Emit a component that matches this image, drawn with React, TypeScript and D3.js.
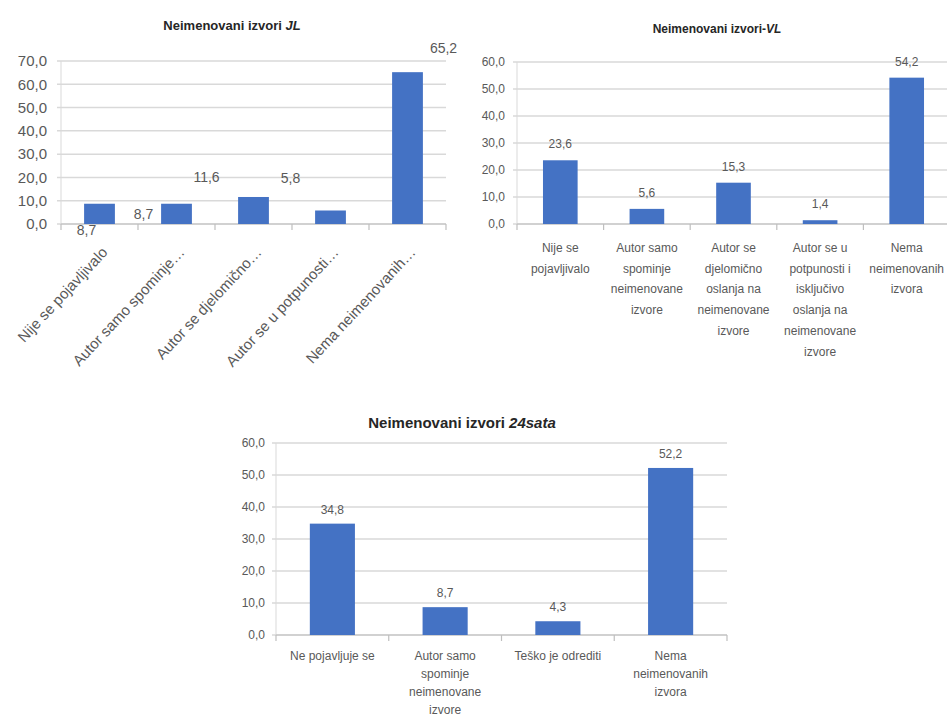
import React from 'react';
import * as d3 from 'd3';

const jlCategories = ["Nije se pojavljivalo", "Autor samo spominje…", "Autor se djelomično…", "Autor se u potpunosti…", "Nema neimenovanih…"];
const jlValues = [8.7, 8.7, 11.6, 5.8, 65.2];
const jlTicks = [0, 10, 20, 30, 40, 50, 60, 70];

const vlCategories = [
  ["Nije se", "pojavljivalo"],
  ["Autor samo", "spominje", "neimenovane", "izvore"],
  ["Autor se", "djelomično", "oslanja na", "neimenovane", "izvore"],
  ["Autor se u", "potpunosti i", "isključivo", "oslanja na", "neimenovane", "izvore"],
  ["Nema", "neimenovanih", "izvora"],
];
const vlValues = [23.6, 5.6, 15.3, 1.4, 54.2];
const vlTicks = [0, 10, 20, 30, 40, 50, 60];

const sataCategories = [
  ["Ne pojavljuje se"],
  ["Autor samo", "spominje", "neimenovane", "izvore"],
  ["Teško je odrediti"],
  ["Nema", "neimenovanih", "izvora"],
];
const sataValues = [34.8, 8.7, 4.3, 52.2];
const sataTicks = [0, 10, 20, 30, 40, 50, 60];

// label displacement seen in the first chart (data labels drawn off their bars)
const jlLabelShift = [[-13, 41], [-33, 25], [-47, -5], [-40, -17], [36, -9]];

const FONT = "'Liberation Sans', Arial, sans-serif";
const BAR = '#4472C4';
const GRID = '#d9d9d9';
const TXT = '#595959';

const fmt = (d: number) => d.toFixed(1).replace('.', ',');

type ChartProps = {
  x0: number; x1: number; yTop: number; yBottom: number;
  ticks: number[]; cats: (string | string[])[]; vals: number[];
  titleMain: string; titleItalic: string; titleX: number; titleY: number; titleSize: number;
  tickSize: number; catSize: number; valSize: number; lineH: number; catY: number;
  rotated?: boolean; shifts?: number[][]; valGap: number; tickGap: number;
};

function Chart(p: ChartProps) {
  const max = p.ticks[p.ticks.length - 1];
  const y = d3.scaleLinear().domain([0, max]).range([p.yBottom, p.yTop]);
  const x = d3.scaleBand<number>().domain(p.vals.map((_, i) => i)).range([p.x0, p.x1]).paddingInner(0.6).paddingOuter(0.3);
  const step = x.step();
  const bounds = d3.range(p.vals.length + 1).map(i => p.x0 + i * step);
  return (
    <g fontFamily={FONT}>
      <text x={p.titleX} y={p.titleY} textAnchor="middle" fontSize={p.titleSize} fontWeight="bold" fill="#262626">
        {p.titleMain}<tspan fontStyle="italic">{p.titleItalic}</tspan>
      </text>
      {p.ticks.map(t => (
        <g key={t}>
          <line x1={p.x0 - 4} x2={p.x1} y1={y(t)} y2={y(t)} stroke={GRID} strokeWidth={1.5} />
          <text x={p.x0 - p.tickGap} y={y(t)} dy="0.35em" textAnchor="end" fontSize={p.tickSize} fill={TXT}>{fmt(t)}</text>
        </g>
      ))}
      <line x1={p.x0} x2={p.x0} y1={p.yTop} y2={p.yBottom} stroke={GRID} strokeWidth={1} />
      <line x1={p.x0} x2={p.x1} y1={p.yBottom} y2={p.yBottom} stroke="#bfbfbf" strokeWidth={1.2} />
      {bounds.map((b, i) => (
        <line key={i} x1={b} x2={b} y1={p.yBottom} y2={p.yBottom + 6} stroke="#bfbfbf" strokeWidth={1.2} />
      ))}
      {p.vals.map((v, i) => {
        const bx = x(i)!;
        const cx = bx + x.bandwidth() / 2;
        const top = y(v);
        const sh = p.shifts ? p.shifts[i] : [0, 0];
        return (
          <g key={i}>
            <rect x={bx} y={top} width={x.bandwidth()} height={p.yBottom - top} fill={BAR} />
            <text x={cx + sh[0]} y={top - p.valGap + sh[1]} textAnchor="middle" fontSize={p.valSize} fill={TXT}>{fmt(v)}</text>
          </g>
        );
      })}
      {p.cats.map((c, i) => {
        const cx = x(i)! + x.bandwidth() / 2;
        if (p.rotated) {
          return (
            <text key={i} transform={`translate(${cx + 9},${p.catY}) rotate(-47)`} textAnchor="end" fontSize={p.catSize} fill={TXT}>{c as string}</text>
          );
        }
        const lines = c as string[];
        return (
          <text key={i} textAnchor="middle" fontSize={p.catSize} fill={TXT}>
            {lines.map((l, j) => (
              <tspan key={j} x={cx} y={p.catY + j * p.lineH}>{l}</tspan>
            ))}
          </text>
        );
      })}
    </g>
  );
}

export default function App() {
  return (
    <svg width={947} height={718} style={{ position: 'absolute', left: 0, top: 0, background: '#fff' }}>
      <rect width={947} height={718} fill="#fff" />
      <Chart x0={61} x1={446} yTop={61} yBottom={224} ticks={jlTicks} cats={jlCategories} vals={jlValues}
        titleMain="Neimenovani izvori " titleItalic="JL" titleX={232} titleY={30} titleSize={13}
        tickSize={15} catSize={15} valSize={14} lineH={0} catY={253} rotated shifts={jlLabelShift} valGap={10} tickGap={14} />
      <Chart x0={517} x1={950} yTop={62} yBottom={224} ticks={vlTicks} cats={vlCategories} vals={vlValues}
        titleMain="Neimenovani izvori-" titleItalic="VL" titleX={717} titleY={33} titleSize={12}
        tickSize={12} catSize={12} valSize={12} lineH={20.7} catY={252} valGap={12} tickGap={12} />
      <Chart x0={276} x1={727} yTop={443} yBottom={635} ticks={sataTicks} cats={sataCategories} vals={sataValues}
        titleMain="Neimenovani izvori " titleItalic="24sata" titleX={462} titleY={428} titleSize={15}
        tickSize={12} catSize={12} valSize={12} lineH={18} catY={660} valGap={10} tickGap={11} />
    </svg>
  );
}
